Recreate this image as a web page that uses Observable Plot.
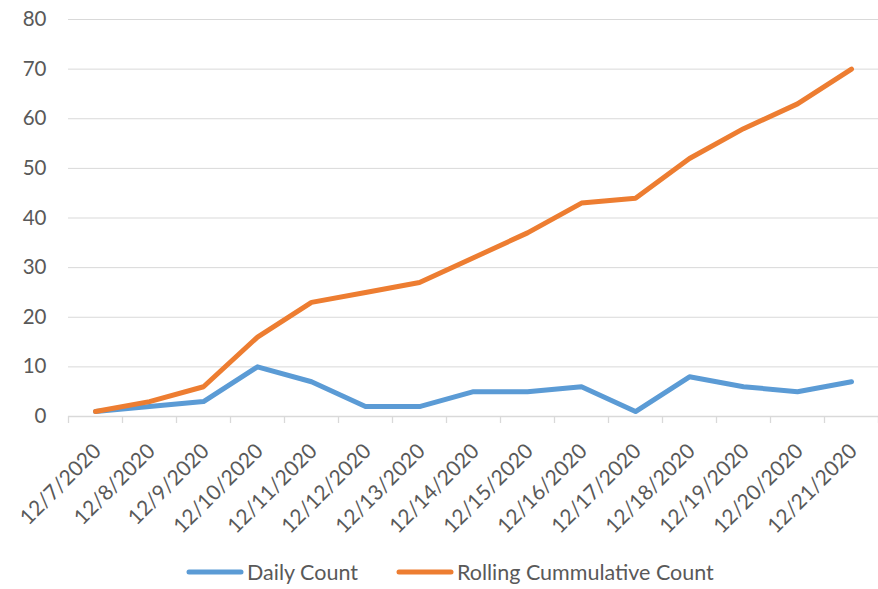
<!DOCTYPE html>
<html>
<head>
<meta charset="utf-8">
<script src="https://cdn.jsdelivr.net/npm/d3@7"></script>
<script src="https://cdn.jsdelivr.net/npm/@observablehq/plot@0.6"></script>
<style>
  html, body { margin: 0; padding: 0; background: #fff; }
  #chart { width: 878px; }
  .legend { display: flex; justify-content: flex-start; align-items: center; gap: 38px; font-family: Lato, "Open Sans", sans-serif; font-size: 21.5px; color: #595959; margin-top: 19px; padding-left: 186px; }
  .legend .item { display: flex; align-items: center; }
  .legend svg { margin-right: 3px; }
</style>
</head>
<body>
<div id="chart"></div>
<script>
const dates = ["12/7/2020","12/8/2020","12/9/2020","12/10/2020","12/11/2020","12/12/2020","12/13/2020","12/14/2020","12/15/2020","12/16/2020","12/17/2020","12/18/2020","12/19/2020","12/20/2020","12/21/2020"];
const dailyCount = [1, 2, 3, 10, 7, 2, 2, 5, 5, 6, 1, 8, 6, 5, 7];
const cumulativeCount = [1, 3, 6, 16, 23, 25, 27, 32, 37, 43, 44, 52, 58, 63, 70];
const yTicks = [0, 10, 20, 30, 40, 50, 60, 70, 80];
const seriesNames = ["Daily Count", "Rolling Cummulative Count"];
const seriesColors = ["#5B9BD5", "#ED7D31"];

const idx = dates.map((d, i) => i);
const boundaries = d3.range(dates.length + 1).map(i => i - 0.5);

const plot = Plot.plot({
  width: 878,
  height: 540,
  marginTop: 19,
  marginBottom: 124,
  marginLeft: 68,
  marginRight: 0,
  style: { fontFamily: "Lato, 'Open Sans', sans-serif", fontSize: "20px", color: "#595959", background: "#fff" },
  x: { type: "linear", domain: [-0.5, dates.length - 0.5] },
  y: { domain: [0, 80] },
  marks: [
    Plot.gridY(yTicks, { stroke: "#D9D9D9", strokeOpacity: 1, strokeWidth: 1 }),
    Plot.axisY(yTicks, { tickSize: 0, tickPadding: 22, fontSize: 20.5, fill: "#595959", label: null }),
    Plot.ruleY([0], { stroke: "#D9D9D9", strokeWidth: 1.3 }),
    Plot.axisX(boundaries, { tickSize: 7, stroke: "#D9D9D9", strokeWidth: 1.3, tickFormat: () => "", label: null }),
    Plot.axisX(idx, { tickSize: 0, tickPadding: 31, tickRotate: -45, tickFormat: i => dates[i], fontSize: 21, fill: "#595959", label: null, dx: 2 }),
    Plot.line(idx, { x: i => i, y: i => dailyCount[i], stroke: seriesColors[0], strokeWidth: 5, strokeLinejoin: "round", strokeLinecap: "round" }),
    Plot.line(idx, { x: i => i, y: i => cumulativeCount[i], stroke: seriesColors[1], strokeWidth: 5, strokeLinejoin: "round", strokeLinecap: "round" })
  ]
});
document.getElementById("chart").appendChild(plot);

const legend = document.createElement("div");
legend.className = "legend";
seriesNames.forEach((name, k) => {
  const item = document.createElement("div");
  item.className = "item";
  item.innerHTML = `<svg width="58" height="10"><line x1="3" y1="5" x2="55" y2="5" stroke="${seriesColors[k]}" stroke-width="5" stroke-linecap="round"/></svg><span>${name}</span>`;
  legend.appendChild(item);
});
document.getElementById("chart").appendChild(legend);
</script>
</body>
</html>
